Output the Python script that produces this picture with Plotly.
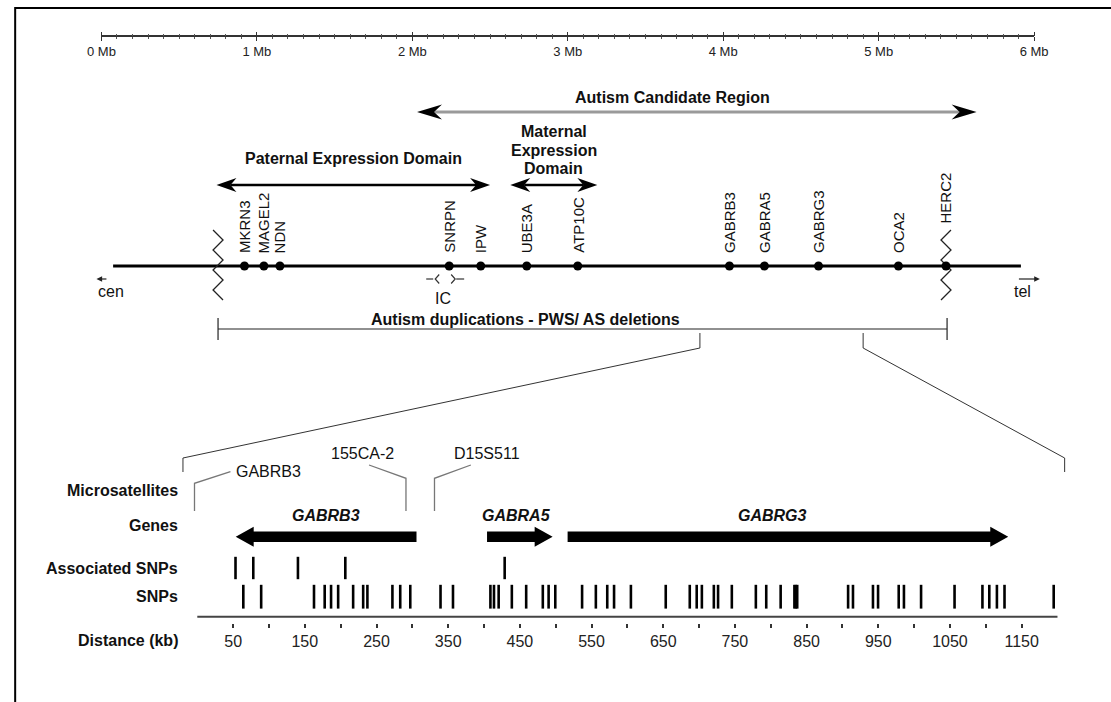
import plotly.graph_objects as go

# ---------------------------------------------------------------- data
MB_TICK_VALUES = [0, 1, 2, 3, 4, 5, 6]
MB_TICK_LABELS = ["0 Mb", "1 Mb", "2 Mb", "3 Mb", "4 Mb", "5 Mb", "6 Mb"]

GENE_NAMES = ["MKRN3", "MAGEL2", "NDN", "SNRPN", "IPW", "UBE3A", "ATP10C",
              "GABRB3", "GABRA5", "GABRG3", "OCA2", "HERC2"]
GENE_MB = [0.92, 1.045, 1.148, 2.237, 2.44, 2.736, 3.064,
           4.04, 4.265, 4.613, 5.127, 5.433]

CHROMOSOME_MB = [0.075, 5.915]
BREAKPOINTS_MB = [0.75, 5.433]
PATERNAL_MB = [0.74, 2.50]
MATERNAL_MB = [2.63, 3.19]
CANDIDATE_MB = [2.03, 5.63]
DUPLICATION_MB = [0.75, 5.44]
ZOOM_MB = [3.85, 4.90]

KB_TICK_VALUES = [50, 150, 250, 350, 450, 550, 650, 750, 850, 950, 1050, 1150]
KB_TICK_LABELS = ["50", "150", "250", "350", "450", "550", "650", "750",
                  "850", "950", "1050", "1150"]

ZOOM_GENES = ["GABRB3", "GABRA5", "GABRG3"]
ZOOM_GENE_START_KB = [305.8, 404.2, 516.6]
ZOOM_GENE_END_KB = [53.6, 495.7, 1131.3]

MICROSAT_NAMES = ["GABRB3", "155CA-2", "D15S511"]
MICROSAT_KB = [-3.9, 291.1, 330.9]

ASSOC_SNP_KB = [53.3, 78.1, 140.4, 206.5, 428.8]
SNP_KB = [64.2, 89.1, 162.8, 177.7, 186.6, 196.5, 217.4, 231.4, 237.3,
          272.2, 283.1, 297.1, 339.3, 356.7, 408.9, 413.9, 420.4, 438.8,
          458.8, 482.0, 490.1, 499.4, 536.8, 556.0, 571.9, 581.4, 604.9,
          653.5, 687.0, 696.7, 703.9, 720.6, 726.5, 745.7, 779.2, 793.7,
          813.8, 833.0, 835.0, 836.9, 907.9, 914.7, 942.6, 949.7, 978.5,
          985.8, 1009.7, 1056.4, 1095.3, 1104.9, 1115.5, 1126.1, 1194.7]

ROW_LABELS = ["Microsatellites", "Genes", "Associated SNPs", "SNPs", "Distance (kb)"]

# ---------------------------------------------------------------- layout constants
W, H = 1111, 702
FONT = "Liberation Sans, Arial, Helvetica, sans-serif"
INK = "#111111"

# horizontal correction for the page photograph (x_shown = 12.4 + 0.9764 * x_drawn)
SHOT_X0, SHOT_K = 12.4, 0.9764


def T(px):
    return (px - SHOT_X0) / SHOT_K


MB_PX0, MB_PX_PER = T(100.0), 155.7 / SHOT_K     # pixel position of 0 Mb, px per Mb
KB_PX0, KB_PX_PER = T(196.0), 0.718 / SHOT_K     # pixel position of 0 kb, px per kb
ZOOM_KB = [-20, 1210]                            # edges of the expanded window


def mb_px(v):
    return MB_PX0 + MB_PX_PER * v


def kb_px(v):
    return KB_PX0 + KB_PX_PER * v


def dmb(px):
    return px / 155.7


def dkb(px):
    return px / 0.718


Y_SCALE = 36
Y_CAND_TEXT, Y_CAND = 97, 112
Y_MAT_LINES = [131, 150, 168.5]
Y_PAT_TEXT = 158.5
Y_DOMAIN = 185
Y_GENE_LABEL = 255
Y_CHROM = 266
Y_CENTEL_ARROW, Y_CENTEL_TEXT = 279, 291
Y_IC_TEXT = 298
Y_BRACKET_TEXT, Y_BRACKET = 319, 329
Y_CALLOUT_TOP, Y_CALLOUT_MID, Y_CALLOUT_BOT = 348, 458, 472
Y_MS_LABEL = 453
Y_GENE_NAME = 515
Y_GENE_ARROW = 536.7
Y_ASSOC = 568
Y_SNP = 596.7
Y_KB_LINE = 616.7
Y_KB_TICKS = 622.5
ROW_Y = [490, 525, 568, 596.7, 640]
ROW_X = T(179)

shapes = []
annotations = []


def seg(xref, x0, y0, x1, y1, color=INK, width=1.0, layer="above"):
    shapes.append(dict(type="line", xref=xref, yref="y", x0=x0, y0=y0, x1=x1, y1=y1,
                       line=dict(color=color, width=width), layer=layer))


def poly(xref, pts, color=INK, closed=True, width=0, layer="above"):
    d = "M " + " L ".join(f"{x:.6f},{y:.3f}" for x, y in pts) + (" Z" if closed else "")
    shapes.append(dict(type="path", xref=xref, yref="y", path=d,
                       fillcolor=color if closed else "rgba(0,0,0,0)",
                       line=dict(color=color, width=width), layer=layer))


def text(x, y, s, xref="x", size=16, xanchor="center", yanchor="middle", angle=0, color=INK):
    annotations.append(dict(x=x, y=y, xref=xref, yref="y", text=s, showarrow=False,
                            font=dict(family=FONT, size=size, color=color),
                            xanchor=xanchor, yanchor=yanchor, textangle=angle))


def double_arrow(a, b, y, shaft_color, width, L, h, n):
    seg("x", a + dmb(n), y, b - dmb(n), y, shaft_color, width)
    for tip, d in ((a, -1), (b, 1)):
        poly("x", [(tip, y), (tip - d * dmb(L), y - h), (tip - d * dmb(n), y),
                   (tip - d * dmb(L), y + h)], "black")


# ---- frame
shapes.append(dict(type="rect", xref="paper", yref="paper", x0=1.2 / W, x1=1.2,
                   y0=-0.2, y1=1 - 8 / H, line=dict(color="black", width=2)))

# ---- domain arrows
double_arrow(CANDIDATE_MB[0], CANDIDATE_MB[1], Y_CAND, "#9a9a9a", 3, 25, 7.5, 17)
double_arrow(PATERNAL_MB[0], PATERNAL_MB[1], Y_DOMAIN, "black", 2.5, 20, 7, 14)
double_arrow(MATERNAL_MB[0], MATERNAL_MB[1], Y_DOMAIN, "black", 2.5, 20, 7, 14)

cand_mid = (CANDIDATE_MB[0] + CANDIDATE_MB[1]) / 2
text(cand_mid + dmb(-24), Y_CAND_TEXT, "<b>Autism Candidate Region</b>")
text((PATERNAL_MB[0] + PATERNAL_MB[1]) / 2, Y_PAT_TEXT, "<b>Paternal Expression Domain</b>")
mat_mid = (MATERNAL_MB[0] + MATERNAL_MB[1]) / 2
for word, yy in zip(["Maternal", "Expression", "Domain"], Y_MAT_LINES):
    text(mat_mid, yy, f"<b>{word}</b>")

# ---- chromosome
seg("x", CHROMOSOME_MB[0], Y_CHROM, CHROMOSOME_MB[1], Y_CHROM, "black", 3, layer="below")


def zigzag(mb, y_top, y_bot, first):
    pts = []
    y = y_top
    s = first
    while y <= y_bot + 0.1:
        pts.append((mb + s * dmb(5), y))
        s = -s
        y += 10
    poly("x", pts, "#222222", closed=False, width=1.3, layer="below")


zigzag(BREAKPOINTS_MB[0], 230, 300, -1)
zigzag(BREAKPOINTS_MB[1], 230, 300, 1)

for name, mb in zip(GENE_NAMES, GENE_MB):
    yb = Y_GENE_LABEL - (30 if name == "HERC2" else 0)
    text(mb, yb, name, size=15, yanchor="bottom", angle=-90)

# IC symbol around SNRPN
snrpn = GENE_MB[GENE_NAMES.index("SNRPN")]
ic_col = "#333333"
seg("x", snrpn + dmb(-23), 279, snrpn + dmb(-16), 279, ic_col, 1.2)
poly("x", [(snrpn + dmb(-10), 274.5), (snrpn + dmb(-14), 279), (snrpn + dmb(-10), 283.5)],
     ic_col, closed=False, width=1.2)
poly("x", [(snrpn + dmb(2), 274.5), (snrpn + dmb(6), 279), (snrpn + dmb(2), 283.5)],
     ic_col, closed=False, width=1.2)
seg("x", snrpn + dmb(7), 279, snrpn + dmb(15), 279, ic_col, 1.2)
text(snrpn + dmb(-6), Y_IC_TEXT, "IC")

# cen / tel
c0, c1 = CHROMOSOME_MB
seg("x", c0 + dmb(-13), Y_CENTEL_ARROW, c0 + dmb(-6.7), Y_CENTEL_ARROW, "#222", 1.2)
poly("x", [(c0 + dmb(-16.7), Y_CENTEL_ARROW), (c0 + dmb(-11), Y_CENTEL_ARROW - 2.8),
           (c0 + dmb(-11), Y_CENTEL_ARROW + 2.8)], "#222")
text(c0 + dmb(-2.4), Y_CENTEL_TEXT, "cen")
seg("x", c1 + dmb(-2), Y_CENTEL_ARROW, c1 + dmb(14), Y_CENTEL_ARROW, "#222", 1.2)
poly("x", [(c1 + dmb(19), Y_CENTEL_ARROW), (c1 + dmb(13.3), Y_CENTEL_ARROW - 2.8),
           (c1 + dmb(13.3), Y_CENTEL_ARROW + 2.8)], "#222")
text(c1 + dmb(1.7), Y_CENTEL_TEXT, "tel")

# ---- duplication bracket
d0, d1 = DUPLICATION_MB
seg("x", d0, Y_BRACKET, d1, Y_BRACKET, "#222", 1.2)
for d in DUPLICATION_MB:
    seg("x", d, Y_BRACKET - 11, d, Y_BRACKET + 11, "#222", 1.2)
text((d0 + d1) / 2 + dmb(-57), Y_BRACKET_TEXT, "<b>Autism duplications - PWS/ AS deletions</b>")

# ---- zoom callouts
for mbv, kbv in zip(ZOOM_MB, ZOOM_KB):
    seg("x", mbv, Y_BRACKET + 4, mbv, Y_CALLOUT_TOP, "#333", 1)
    poly("paper", [(mb_px(mbv) / W, Y_CALLOUT_TOP), (kb_px(kbv) / W, Y_CALLOUT_MID),
                   (kb_px(kbv) / W, Y_CALLOUT_BOT)], "#333", closed=False, width=1)

# ---- microsatellites
ms_col = "#777777"
MS_STYLE = {  # diag dx (px), corner y, diag end y, label dx (px), label y, label anchor
    "GABRB3": (36, 483.3, 471.7, 39.3, 471, "left"),
    "155CA-2": (-37, 478.3, 465, -44, Y_MS_LABEL, "center"),
    "D15S511": (36.4, 478.3, 465, 52.4, Y_MS_LABEL, "center"),
}
for name, kbv in zip(MICROSAT_NAMES, MICROSAT_KB):
    ddx, yc, ye, ldx, ly, anc = MS_STYLE[name]
    poly("x2", [(kbv, 511), (kbv, yc), (kbv + dkb(ddx), ye)], ms_col, closed=False, width=1.3)
    text(kbv + dkb(ldx), ly, name, xref="x2", xanchor=anc)

# ---- zoomed genes
HEAD, BODY_H, HEAD_H = 18, 5.3, 10
GENE_LABEL_DX = [0, -3, -15]
for name, s, e, ldx in zip(ZOOM_GENES, ZOOM_GENE_START_KB, ZOOM_GENE_END_KB, GENE_LABEL_DX):
    d = 1 if e > s else -1
    y = Y_GENE_ARROW
    hb = e - d * dkb(HEAD)
    poly("x2", [(s, y - BODY_H), (hb, y - BODY_H), (hb, y - HEAD_H), (e, y),
                (hb, y + HEAD_H), (hb, y + BODY_H), (s, y + BODY_H)], "black")
    text((s + e) / 2 + dkb(ldx), Y_GENE_NAME, f"<b><i>{name}</i></b>", xref="x2")

# distance axis line
seg("x2", 0, Y_KB_LINE, 1200, Y_KB_LINE, "#444", 2)

# row labels
for lab, yy in zip(ROW_LABELS, ROW_Y):
    text(ROW_X / W, yy, f"<b>{lab}</b>", xref="paper", xanchor="right")

# ---------------------------------------------------------------- traces
fig = go.Figure()
fig.add_trace(go.Scatter(x=GENE_MB, y=[Y_CHROM] * len(GENE_MB), xaxis="x", yaxis="y",
                         mode="markers", marker=dict(size=9, color="black"),
                         hoverinfo="skip"))
fig.add_trace(go.Scatter(x=SNP_KB, y=[Y_SNP] * len(SNP_KB), xaxis="x2", yaxis="y",
                         mode="markers",
                         marker=dict(symbol="line-ns", size=17,
                                     line=dict(width=2.6, color="black")),
                         hoverinfo="skip"))
fig.add_trace(go.Scatter(x=ASSOC_SNP_KB, y=[Y_ASSOC] * len(ASSOC_SNP_KB), xaxis="x2",
                         yaxis="y", mode="markers",
                         marker=dict(symbol="line-ns", size=16,
                                     line=dict(width=2.6, color="black")),
                         hoverinfo="skip"))
# carriers for the visible scale axes
for ax, xs in (("x3", [0, 6]), ("x4", [0, 6]), ("x5", [0, 1200])):
    fig.add_trace(go.Scatter(x=xs, y=[-50, -50], xaxis=ax, yaxis="y", mode="markers",
                             marker=dict(opacity=0), hoverinfo="skip"))

hidden = dict(visible=False, showgrid=False, zeroline=False, fixedrange=True)
fig.update_layout(
    width=W, height=H, autosize=False,
    margin=dict(l=0, r=0, t=0, b=0, pad=0),
    paper_bgcolor="white", plot_bgcolor="rgba(0,0,0,0)",
    showlegend=False,
    font=dict(family=FONT, color=INK),
    xaxis=dict(hidden, range=[-MB_PX0 / MB_PX_PER, (W - MB_PX0) / MB_PX_PER], domain=[0, 1]),
    xaxis2=dict(hidden, range=[-KB_PX0 / KB_PX_PER, (W - KB_PX0) / KB_PX_PER],
                overlaying="x", domain=[0, 1]),
    yaxis=dict(hidden, range=[H, 0], domain=[0, 1]),
    xaxis3=dict(domain=[mb_px(0) / W, mb_px(6) / W], range=[0, 6], anchor="free",
                position=1 - Y_SCALE / H, side="bottom", showgrid=False, zeroline=False,
                showline=True, linecolor="#333", linewidth=1.5,
                tickmode="array", tickvals=MB_TICK_VALUES, ticktext=MB_TICK_LABELS,
                ticks="outside", ticklen=4, tickwidth=1.3, tickcolor="#333",
                tickfont=dict(family=FONT, size=13, color="#222"),
                minor=dict(dtick=0.1, tick0=0, ticks="outside", ticklen=1.8,
                           tickwidth=1, tickcolor="#555"),
                fixedrange=True),
    xaxis4=dict(domain=[mb_px(0) / W, mb_px(6) / W], range=[0, 6], anchor="free",
                position=1 - Y_SCALE / H, side="top", showgrid=False, zeroline=False,
                showline=False, showticklabels=False,
                tickmode="array", tickvals=MB_TICK_VALUES,
                ticks="outside", ticklen=4, tickwidth=1.3, tickcolor="#333",
                minor=dict(dtick=0.1, tick0=0, ticks="outside", ticklen=1.8,
                           tickwidth=1, tickcolor="#555"),
                fixedrange=True),
    xaxis5=dict(domain=[kb_px(0) / W, kb_px(1200) / W], range=[0, 1200], anchor="free",
                position=1 - Y_KB_TICKS / H, side="bottom", showgrid=False, zeroline=False,
                showline=False, tickmode="array", tickvals=KB_TICK_VALUES,
                ticktext=KB_TICK_LABELS, ticks="outside", ticklen=4, tickwidth=1.5,
                tickcolor="#333", tickfont=dict(family=FONT, size=16, color="#222"),
                minor=dict(tickvals=[v + 50 for v in KB_TICK_VALUES[:-1]], ticks="outside",
                           ticklen=4, tickwidth=1.5, tickcolor="#333"),
                fixedrange=True),
    shapes=shapes,
    annotations=annotations,
)

fig.write_html("out.html", config={"displayModeBar": False})
